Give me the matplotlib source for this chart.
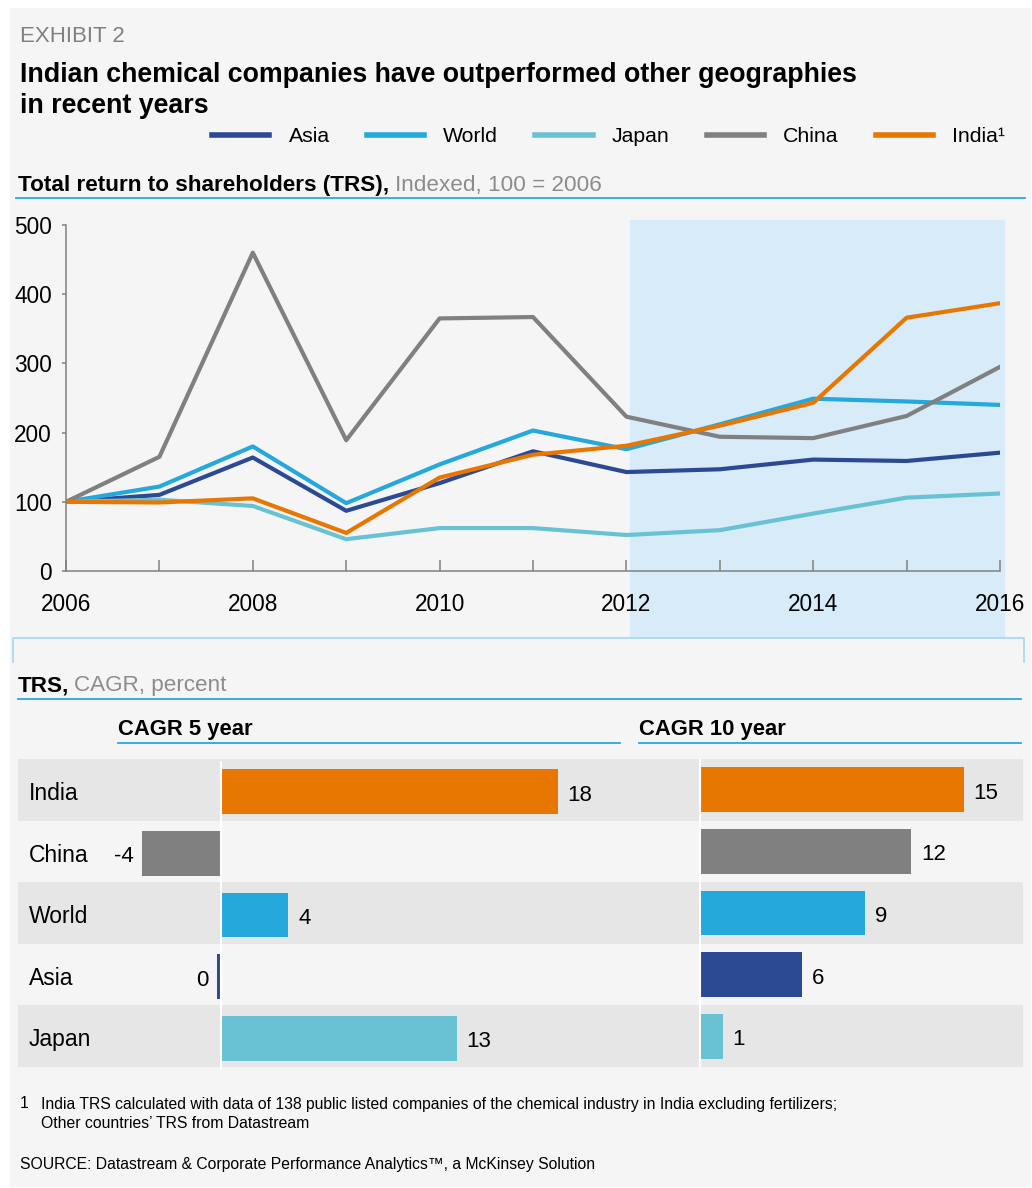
import matplotlib
matplotlib.use('Agg')
import matplotlib.pyplot as plt
from matplotlib.patches import Rectangle
from matplotlib.lines import Line2D

plt.rcParams['font.family'] = ['Liberation Sans', 'DejaVu Sans']

# --- data ---
years = list(range(2006, 2017))
asia = [100, 110, 164, 87, 127, 173, 143, 147, 161, 159, 171]
world = [100, 122, 180, 98, 154, 203, 176, 212, 249, 245, 240]
japan = [100, 103, 94, 46, 62, 62, 52, 59, 83, 106, 112]
china = [100, 165, 460, 189, 365, 367, 223, 194, 192, 224, 295]
india = [100, 99, 105, 55, 135, 168, 181, 210, 243, 366, 387]

series_names = ['Asia', 'World', 'Japan', 'China', 'India\u00b9']
series_colors = ['#2c4a94', '#25a8dc', '#68c2d4', '#808080', '#e87702']

bar_labels = ['India', 'China', 'World', 'Asia', 'Japan']
bar_colors = ['#e87702', '#808080', '#25a8dc', '#2c4a94', '#68c2d4']
cagr5 = [18.0, -4.2, 3.6, -0.2, 12.6]
cagr10 = [15.0, 12.0, 9.4, 5.8, 1.3]

GRAY_TXT = '#8c8c8c'
RULE = '#29a9e0'

W, H = 1032, 1188
fig = plt.figure(figsize=(W / 100, H / 100), dpi=100, facecolor='white')


def fx(px):
    return px / W


def fy(py):
    return 1 - py / H


def box(x0, y0, x1, y1):
    return [fx(x0), fy(y1), fx(x1) - fx(x0), fy(y0) - fy(y1)]


def hline(x0, x1, y, color=RULE, lw=1.3):
    fig.add_artist(Line2D([fx(x0), fx(x1)], [fy(y), fy(y)], color=color, lw=lw,
                          transform=fig.transFigure))


# background panel and highlighted period
fig.patches.append(Rectangle((fx(10), fy(1186)), fx(1030) - fx(10), fy(8) - fy(1186),
                             transform=fig.transFigure, color='#f5f5f5', zorder=-10))
fig.patches.append(Rectangle((fx(630), fy(637)), fx(1004) - fx(630), fy(220) - fy(637),
                             transform=fig.transFigure, color='#d7ebf8', zorder=-5))
fig.add_artist(Line2D([fx(13), fx(13), fx(1024), fx(1024)], [fy(662), fy(638), fy(638), fy(662)],
                      color='#aad9f2', lw=1.3, transform=fig.transFigure))

# titles
fig.text(fx(20), fy(37), 'EXHIBIT 2', va='center', fontsize=16, color='#808080')
fig.text(fx(20), fy(75), 'Indian chemical companies have outperformed other geographies',
         va='center', fontsize=19.3, weight='bold')
fig.text(fx(20), fy(106), 'in recent years', va='center', fontsize=19.3, weight='bold')

renderer = fig.canvas.get_renderer()
t = fig.text(fx(18), fy(185), 'Total return to shareholders (TRS),', va='center',
             fontsize=16.2, weight='bold')
x_end = t.get_window_extent(renderer).x1
fig.text((x_end + 6) / W, fy(185), 'Indexed, 100 = 2006', va='center', fontsize=16.2,
         color=GRAY_TXT)
hline(16, 1025, 198)

# legend
handles = [Line2D([], [], color=c, lw=4) for c in series_colors]
fig.legend(handles, series_names, loc='center left', bbox_to_anchor=(fx(212), fy(137)),
           ncol=5, frameon=False, fontsize=15.3, handlelength=2.7, handletextpad=0.9,
           columnspacing=1.75, borderpad=0, borderaxespad=0)

# line chart
ax = fig.add_axes(box(66, 225, 1000, 571))
ax.set_facecolor('none')
for vals, c in zip([asia, world, japan, china, india], series_colors):
    ax.plot(years, vals, color=c, lw=3)
ax.set_xlim(2006, 2016)
ax.set_ylim(0, 500)
ax.set_xticks(years)
ax.set_xticklabels([str(y) if y % 2 == 0 else '' for y in years])
ax.set_yticks(range(0, 501, 100))
ax.tick_params(axis='x', direction='in', length=8, width=1.1, color='#808080',
               labelsize=16.3, pad=16)
ax.tick_params(axis='y', direction='out', length=3, width=1.1, color='#808080',
               labelsize=16.3, pad=7)
for s in ['top', 'right']:
    ax.spines[s].set_visible(False)
for s in ['left', 'bottom']:
    ax.spines[s].set_color('#808080')
    ax.spines[s].set_linewidth(1.1)

# CAGR section headings
t = fig.text(fx(18), fy(686), 'TRS,', va='center', fontsize=16.2, weight='bold')
x_end = t.get_window_extent(renderer).x1
fig.text((x_end + 5) / W, fy(686), 'CAGR, percent', va='center', fontsize=16.2, color=GRAY_TXT)
hline(18, 1021, 699)
fig.text(fx(118), fy(729), 'CAGR 5 year', va='center', fontsize=15.8, weight='bold')
fig.text(fx(639), fy(729), 'CAGR 10 year', va='center', fontsize=15.8, weight='bold')
hline(118, 620, 743)
hline(639, 1021, 743)

# row bands and labels
rows = range(len(bar_labels))
bg = fig.add_axes(box(18, 759, 1023, 1067))
bg.set_xlim(0, 1)
bg.set_ylim(len(bar_labels) - 0.5, -0.5)
for i in rows:
    if i % 2 == 0:
        bg.axhspan(i - 0.5, i + 0.5, color='#e6e6e6', lw=0)
    bg.text(11 / 1005, i + 0.06, bar_labels[i], va='center', fontsize=16.5)
bg.axis('off')


def bar_panel(vals, zero_px, left_px, right_px, scale, shift):
    a = fig.add_axes(box(left_px, 759 + shift, right_px, 1067 + shift))
    a.set_facecolor('none')
    a.barh(list(rows), vals, height=0.73, color=bar_colors)
    a.axvline(0, color='white', lw=1.5, zorder=3)
    a.set_xlim(-(zero_px - left_px) / scale, (right_px - zero_px) / scale)
    a.set_ylim(len(bar_labels) - 0.5, -0.5)
    for i, v in zip(rows, vals):
        lab = str(int(round(v)))
        if v >= 0:
            a.annotate(lab, (v, i), xytext=(7, -2.5), textcoords='offset points',
                       ha='left', va='center', fontsize=16)
        else:
            a.annotate(lab, (v, i), xytext=(-6, -2.5), textcoords='offset points',
                       ha='right', va='center', fontsize=16)
    a.axis('off')
    return a


bar_panel(cagr5, 221, 118, 620, 18.7, 2)
bar_panel(cagr10, 700, 639, 1021, 17.6, 0)

# footnotes
fig.text(fx(20), fy(1104), '1', va='center', fontsize=11.3)
fig.text(fx(41), fy(1104), 'India TRS calculated with data of 138 public listed companies of the '
         'chemical industry in India excluding fertilizers;', va='center', fontsize=11.3)
fig.text(fx(41), fy(1123), 'Other countries\u2019 TRS from Datastream', va='center', fontsize=11.3)
fig.text(fx(20), fy(1165), 'SOURCE: Datastream & Corporate Performance Analytics\u2122, '
         'a McKinsey Solution', va='center', fontsize=11.3)

fig.savefig('out.png', dpi=100, facecolor='white')
